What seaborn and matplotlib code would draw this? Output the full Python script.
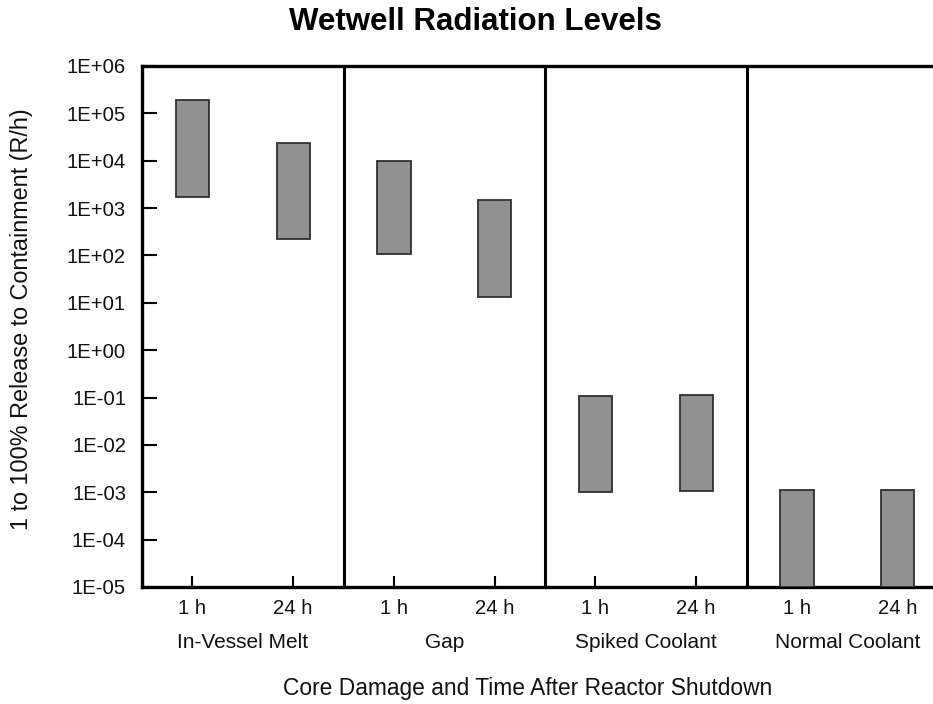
import matplotlib
matplotlib.use("Agg")
import matplotlib.pyplot as plt
import matplotlib.transforms as mtransforms
import seaborn as sns
import numpy as np

# data
groups = ["In-Vessel Melt", "Gap", "Spiked Coolant", "Normal Coolant"]
times = ["1 h", "24 h"]
low_vals = [1.7e3, 2.2e2, 1.05e2, 1.3e1, 1.0e-3, 1.05e-3, 1e-5, 1e-5]
high_vals = [1.9e5, 2.4e4, 1.0e4, 1.45e3, 1.1e-1, 1.15e-1, 1.1e-3, 1.12e-3]
y_ticks = [1e-5, 1e-4, 1e-3, 1e-2, 1e-1, 1e0, 1e1, 1e2, 1e3, 1e4, 1e5, 1e6]

sns.set_style("white")
plt.rcParams["font.family"] = ["Liberation Sans", "DejaVu Sans"]
plt.rcParams["text.color"] = "#111111"

fig = plt.figure(figsize=(9.33, 7.04), dpi=100)
ax = fig.add_axes([0.1522, 0.1662, 0.8478, 0.7401])

pos = np.arange(len(low_vals)) + 0.5
heights = np.array(high_vals) - np.array(low_vals)
ax.bar(pos, heights, bottom=low_vals, width=0.33, color="#919191",
       edgecolor="#303030", linewidth=1.3, zorder=3)

ax.set_yscale("log")
ax.set_ylim(1e-5, 1e6)
ax.set_xlim(0, 7.851)
ax.set_yticks(y_ticks)
ax.set_yticklabels([f"{v:.0E}" for v in y_ticks])
ax.minorticks_off()
ax.set_xticks(pos)
ax.set_xticklabels(times * len(groups))

for xv in [2, 4, 6]:
    ax.axvline(xv, color="black", lw=2.2, zorder=4)

for s in ["left", "bottom", "top"]:
    ax.spines[s].set_color("black")
    ax.spines[s].set_linewidth(2.4)
ax.spines["right"].set_visible(False)

ax.tick_params(axis="y", direction="in", length=11, width=1.5, labelsize=14.6,
               pad=11.5, color="black", labelcolor="#111111", left=True)
ax.tick_params(axis="x", direction="in", length=8, width=1.5, labelsize=14.6,
               pad=9, color="black", labelcolor="#111111", bottom=True)

trans = mtransforms.blended_transform_factory(ax.transData, fig.transFigure)
for i, g in enumerate(groups):
    ax.text(2 * i + 1, 1 - 643 / 704, g, transform=trans, ha="center",
            va="center", fontsize=15)

fig.text(528 / 933, 1 - 688 / 704, "Core Damage and Time After Reactor Shutdown",
         ha="center", va="center", fontsize=16.4)
fig.text(22 / 933, 1 - 319 / 704, "1 to 100% Release to Containment (R/h)",
         ha="center", va="center", rotation=90, fontsize=16.8)
fig.text(475 / 933, 1 - 22 / 704, "Wetwell Radiation Levels",
         ha="center", va="center", fontsize=22.5, fontweight="bold",
         color="black")

fig.savefig("out.png", dpi=100)
